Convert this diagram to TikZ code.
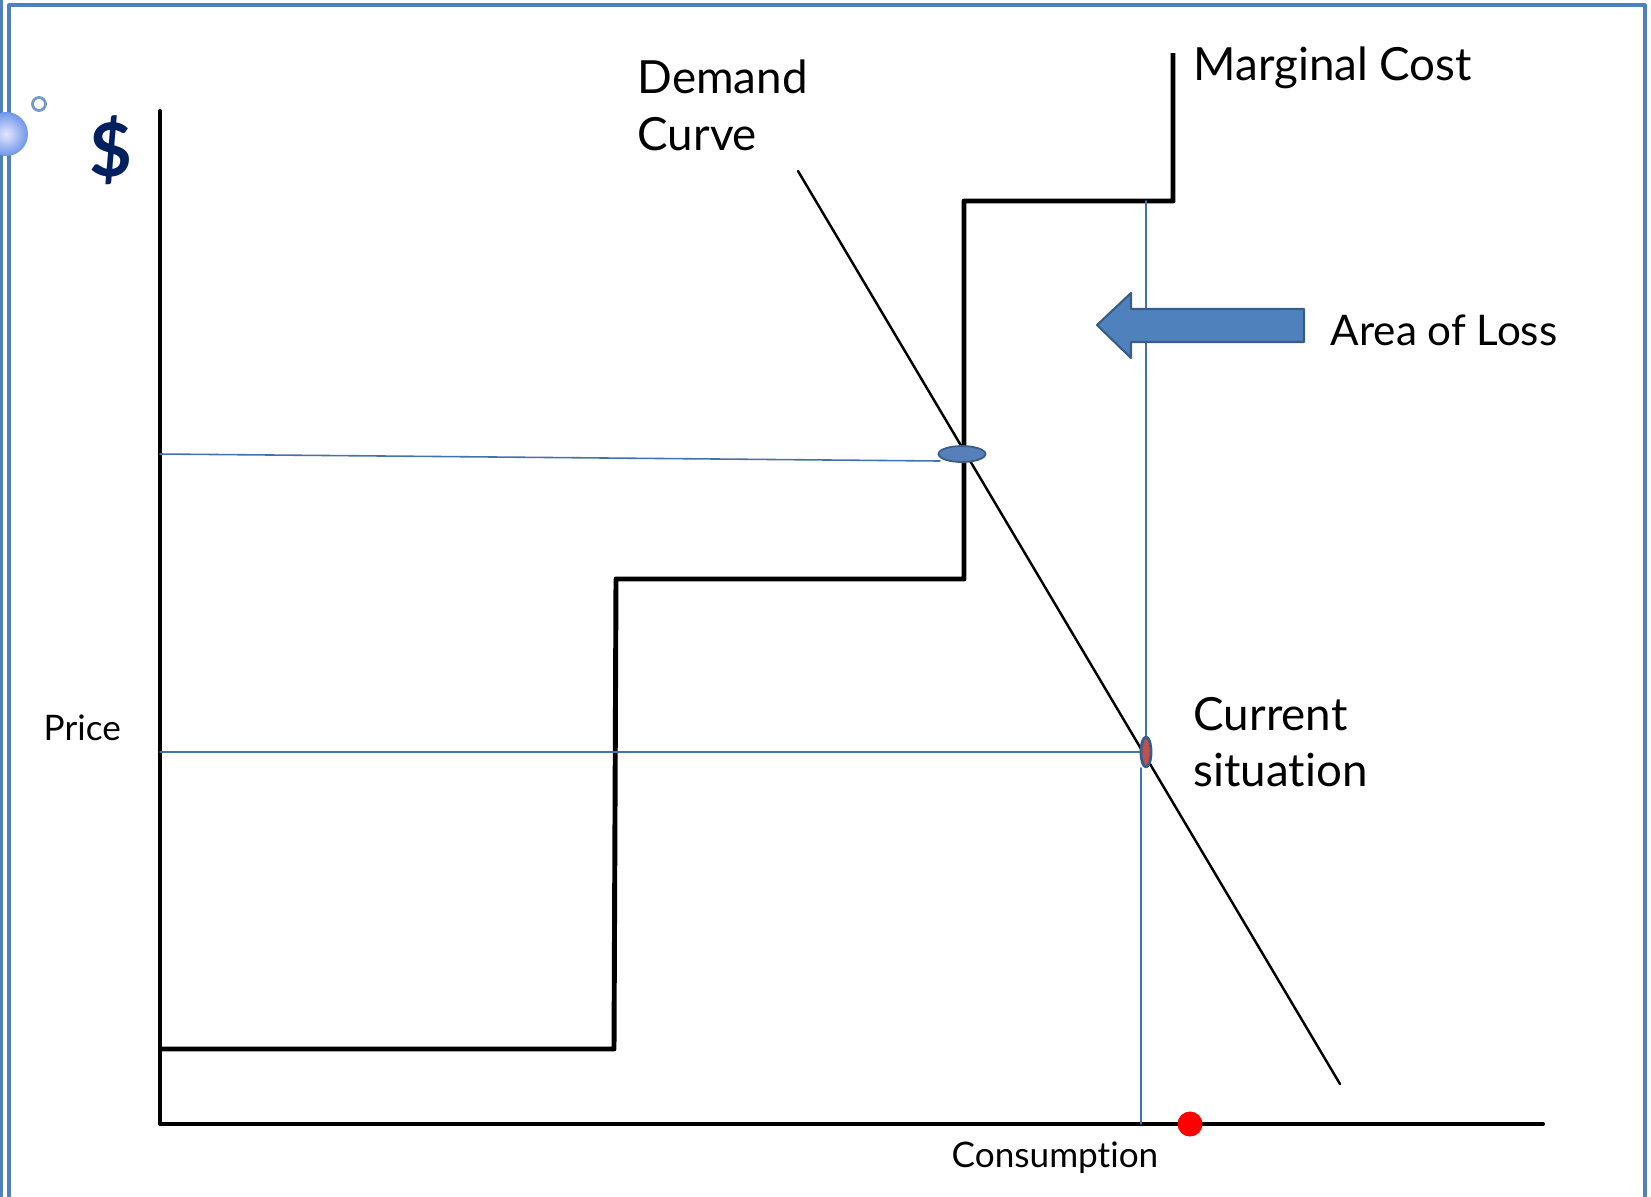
\documentclass[tikz,border=0pt]{standalone}
\usepackage{fontspec}
\setmainfont{Lato}[Ligatures={NoCommon}]
\definecolor{frameblue}{RGB}{79,129,189}
\definecolor{guideblue}{RGB}{68,114,176}
\definecolor{arrowedge}{RGB}{56,93,138}
\definecolor{dollarblue}{RGB}{0,32,96}
\definecolor{dotred}{RGB}{192,80,77}

\tikzset{
  biglabel/.style={anchor=base west, inner sep=0pt, font=\fontsize{13}{16}\selectfont},
  smalllabel/.style={anchor=base west, inner sep=0pt, font=\fontsize{10}{12}\selectfont},
  guide/.style={guideblue, line width=0.45pt},
}

\begin{document}
\begin{tikzpicture}[x=0.01cm, y=-0.01cm, line cap=round, line join=round]
  \useasboundingbox (0,0) rectangle (1651,1196);

  % slide frame
  \draw[frameblue, line width=0.9pt] (1,0) -- (1,1196);
  \draw[frameblue, line width=0.9pt] (9,1196) -- (9,5) -- (1645,5) -- (1645,1196);
  \shade[inner color=blue!10, outer color={rgb,255:red,110;green,150;blue,235}] (6,134) circle (22);
  \draw[frameblue!80, line width=0.8pt] (39,104) circle (6.5);

  % axes
  \coordinate (O) at (160,1124);
  \coordinate (Ytop) at (160,111);
  \coordinate (Xend) at (1543,1124);
  \draw[line width=1.15pt] (Ytop) -- (O) -- (Xend);

  % marginal cost steps
  \coordinate (M0) at (160,1049);
  \coordinate (M1) at (614,1049);
  \coordinate (M2) at (616,579);
  \coordinate (M3) at (964,579);
  \coordinate (M4) at (964,201);
  \coordinate (M5) at (1173,201);
  \coordinate (M6) at (1173,53);
  \draw[line width=1.4pt, line cap=butt] (M0) -- (M1) -- (M2) -- (M3) -- (M4) -- (M5) -- (M6);

  % demand curve
  \coordinate (D0) at (798,171);
  \coordinate (D1) at (1340,1084);
  \draw[line width=0.7pt] (D0) -- (D1);

  % points on the curve
  \coordinate (E) at (962,454);
  \coordinate (C) at (1146,752);

  % guide lines
  \coordinate (P1) at (160,454);
  \coordinate (P2) at (160,752);
  \coordinate (Cb) at (1141,768);
  \coordinate (Q1) at (1141,1124);
  \coordinate (Q2) at (1146,201);
  \draw[guide] (P1) -- (940,461);
  \draw[guide] (P2) -- (C);
  \draw[guide] (Q2) -- (C);
  \draw[guide] (Cb) -- (Q1);

  \fill[guideblue!90, draw=arrowedge, line width=0.5pt] (E) ellipse (23.5 and 8);
  \fill[dotred, draw=arrowedge, line width=0.8pt] (C) ellipse (5 and 15);
  \fill[red] (1190,1124) circle (12.5);

  % arrow
  \filldraw[fill=frameblue, draw=arrowedge, line width=0.6pt]
    (1097,325) -- (1131,293) -- (1131,309) -- (1304,309) -- (1304,342)
    -- (1131,342) -- (1131,358) -- cycle;

  % labels
  \node[font=\fontsize{21}{24}\bfseries\selectfont, text=dollarblue] (dollar) at (111,150) {\$};
  \node[biglabel] (demand) at (637,93) {Demand};
  \node[biglabel] (curve) at (637,150) {Curve};
  \node[biglabel] (mc) at (1193,80) {Marginal Cost};
  \node[biglabel, font=\fontsize{12}{14}\selectfont] (loss) at (1330,345) {Area of Loss};
  \node[biglabel] (current) at (1193,730) {Current};
  \node[biglabel] (situation) at (1193,786) {situation};
  \node[smalllabel] (price) at (43,740) {Price};
  \node[smalllabel] (cons) at (951,1167) {Consumption};
\end{tikzpicture}
\end{document}
